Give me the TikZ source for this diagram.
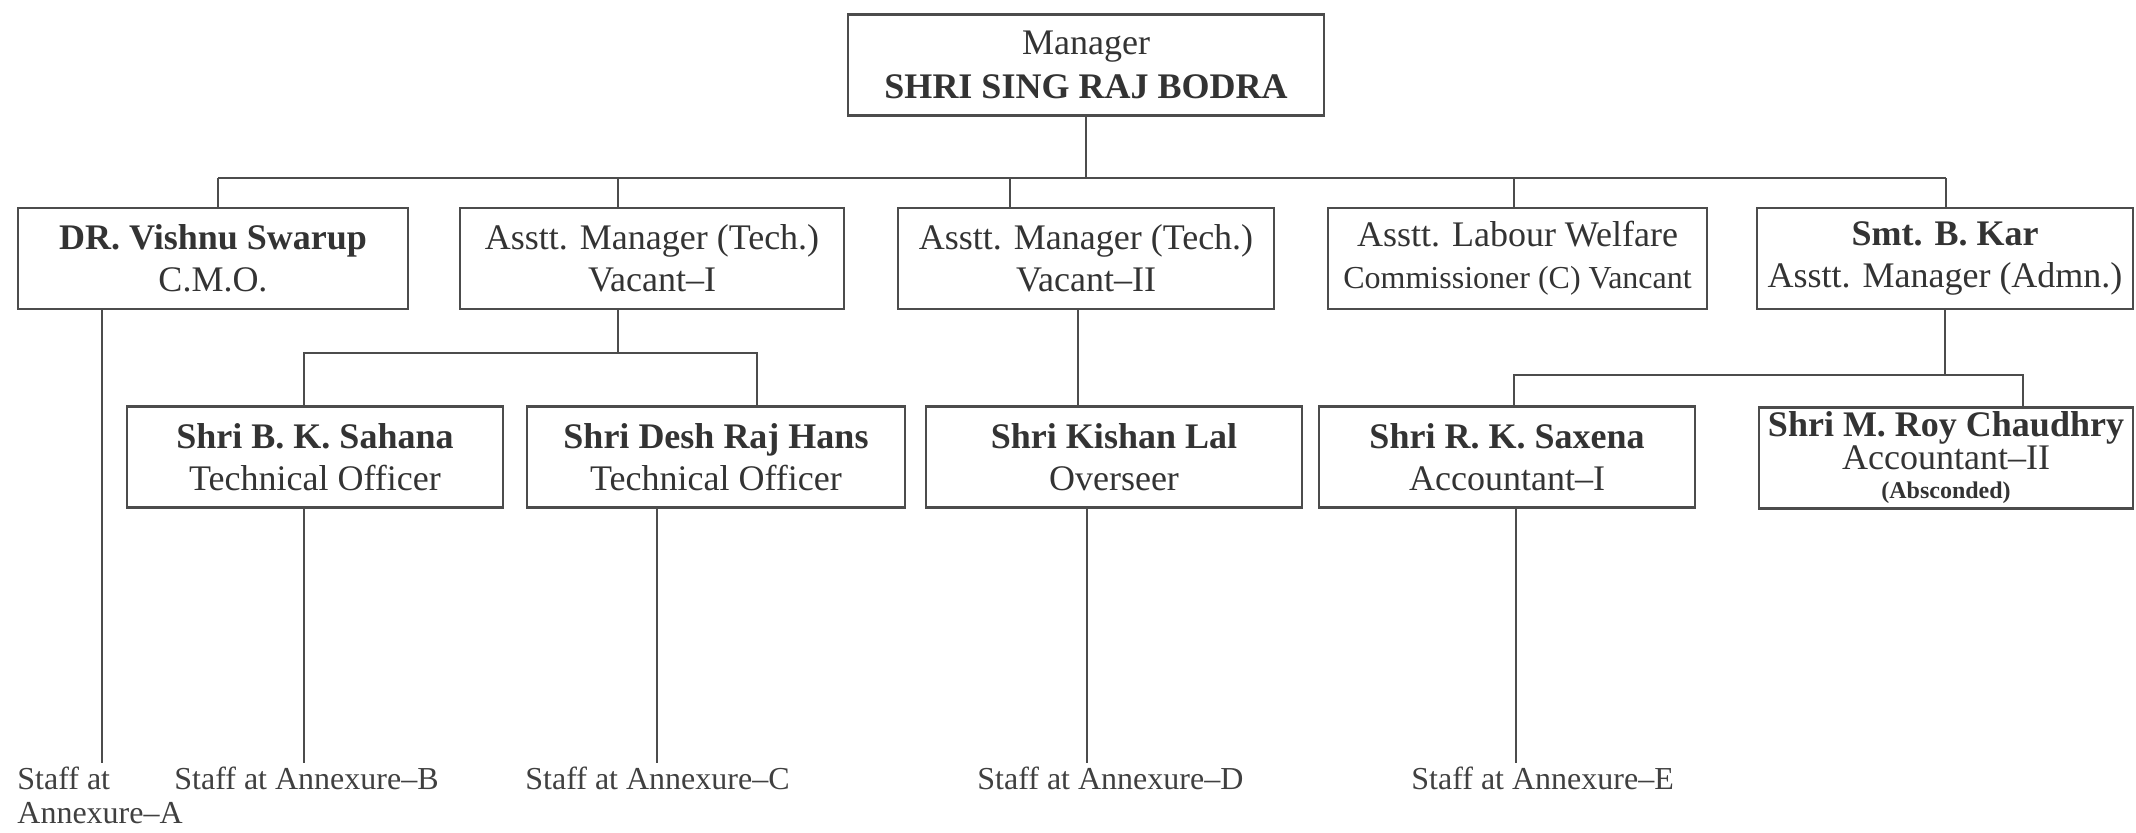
\documentclass[tikz,border=0pt]{standalone}
\usepackage{fontspec}
\setmainfont{Liberation Serif}
\begin{document}
\begin{tikzpicture}[x=0.5pt, y=-0.5pt,
  post/.style={draw=black!70, line width=1.3pt, inner sep=0pt, align=center,
    text=black!80, minimum height=50.5pt, font=\fontsize{18}{21}\selectfont},
  link/.style={draw=black!70, line width=1pt},
  staff/.style={inner sep=0pt, anchor=north west, align=left, text=black!75,
    font=\fontsize{16}{17}\selectfont}]
\useasboundingbox (0,0) rectangle (2136,832);

% Manager
\node[post, minimum width=238pt, font=\fontsize{18}{22}\selectfont] (mgr) at (1086,65)
  {Manager\\\textbf{SHRI SING RAJ BODRA}};

% Heads
\node[post, minimum width=195pt] (cmo) at (213,258.5) {\textbf{DR. Vishnu Swarup}\\C.M.O.};
\node[post, minimum width=192pt] (amtone) at (652,258.5) {Asstt. Manager (Tech.)\\Vacant--I};
\node[post, minimum width=188pt] (amttwo) at (1086,258.5) {Asstt. Manager (Tech.)\\Vacant--II};
\node[post, minimum width=189.5pt] (alwc) at (1517.5,258.5)
  {Asstt. Labour Welfare\\{\fontsize{16}{21}\selectfont Commissioner (C) Vancant}};
\node[post, minimum width=188pt] (kar) at (1945,258.5) {\textbf{Smt. B. Kar}\\Asstt. Manager (Admn.)};

% Officers
\node[post, minimum width=188pt] (sahana) at (315,457) {\textbf{Shri B. K. Sahana}\\Technical Officer};
\node[post, minimum width=189pt] (hans) at (716,457) {\textbf{Shri Desh Raj Hans}\\Technical Officer};
\node[post, minimum width=188pt] (kishan) at (1114,457) {\textbf{Shri Kishan Lal}\\Overseer};
\node[post, minimum width=188pt] (saxena) at (1507,457) {\textbf{Shri R. K. Saxena}\\Accountant--I};
\node[post, minimum width=187pt, font=\fontsize{18}{16.5}\selectfont] (roy) at (1946,458)
  {\textbf{Shri M. Roy Chaudhry}\\Accountant--II\\[-2pt]{\fontsize{12}{12}\selectfont\textbf{(Absconded)}}};

% Staff
\node[staff] (staffa) at (17,767) {Staff at\\Annexure--A};
\node[staff] (staffb) at (174,767) {Staff at Annexure--B};
\node[staff] (staffc) at (525,767) {Staff at Annexure--C};
\node[staff] (staffd) at (977,767) {Staff at Annexure--D};
\node[staff] (staffe) at (1411,767) {Staff at Annexure--E};

% Bus
\coordinate (b1) at (218,178);
\coordinate (b2) at (618,178);
\coordinate (b3) at (1010,178);
\coordinate (b4) at (1514,178);
\coordinate (b5) at (1946,178);
\draw[link] (b1) -- (b5);
\draw[link] (mgr.south) -- (mgr.south |- b1);
\foreach \j/\n in {b1/cmo, b2/amtone, b3/amttwo, b4/alwc, b5/kar}
  \draw[link] (\j) -- (\j |- \n.north);

% Sub-bus
\coordinate (s1) at (304,353);
\coordinate (s2) at (757,353);
\coordinate (k1) at (1078,353);
\coordinate (s3) at (1514,375);
\coordinate (s4) at (2023,375);
\draw[link] (amtone.south -| b2) -- (b2 |- s1);
\draw[link] (s1 |- sahana.north) -- (s1) -- (s2) -- (s2 |- hans.north);
\draw[link] (amttwo.south -| k1) -- (k1 |- kishan.north);
\draw[link] (kar.south) -- (kar.south |- s3);
\draw[link] (s3 |- saxena.north) -- (s3) -- (s4) -- (s4 |- roy.north);

% Down to staff
\coordinate (ea) at (102,763);
\coordinate (eb) at (304,763);
\coordinate (ec) at (657,763);
\coordinate (ed) at (1087,763);
\coordinate (ee) at (1516,763);
\foreach \n/\e in {cmo/ea, sahana/eb, hans/ec, kishan/ed, saxena/ee}
  \draw[link] (\n.south -| \e) -- (\e);
\end{tikzpicture}
\end{document}
